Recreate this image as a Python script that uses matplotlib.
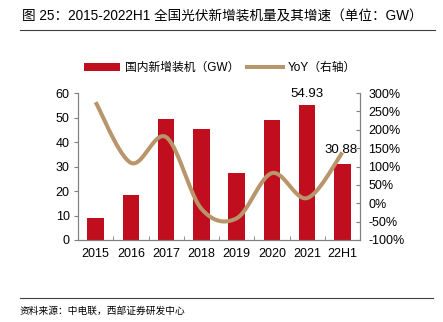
import matplotlib
matplotlib.use("Agg")
import matplotlib.pyplot as plt
import numpy as np
from matplotlib.patches import Patch
from matplotlib.lines import Line2D

plt.rcParams['font.family'] = ['Liberation Sans', 'Noto Sans CJK SC', 'DejaVu Sans']

categories = ['2015', '2016', '2017', '2018', '2019', '2020', '2021', '22H1']
installed = [8.9, 18.4, 49.3, 45.3, 27.2, 48.9, 54.93, 30.88]
yoy = [275, 110, 180, -15, -41, 82, 14, 138]
labelled = {6: '54.93', 7: '30.88'}

bar_color = '#C00E1E'
line_color = '#B8956B'
spine_color = '#808080'

fig = plt.figure(figsize=(4.43, 3.22), dpi=100)
W, H = 443, 322
ax = fig.add_axes([78 / W, 1 - 240 / H, (360 - 78) / W, (240 - 93) / H])
ax2 = ax.twinx()

x = np.arange(len(categories))
ax.bar(x, installed, width=0.47, color=bar_color, zorder=2)
ax.set_xlim(-0.5, len(categories) - 0.5)
ax.set_ylim(0, 60)
ax.set_yticks(range(0, 61, 10))
ax.set_xticks(x)
ax.set_xticklabels(categories)
ax.set_xticks(np.arange(-0.5, len(categories), 1), minor=True)
ax.tick_params(axis='x', which='major', length=0, labelsize=9, pad=6)
ax.tick_params(axis='x', which='minor', direction='in', length=3, color=spine_color)
ax.tick_params(axis='y', direction='out', length=3, labelsize=9, color=spine_color, pad=3)

# smooth line (Excel-like bezier smoothing in screen-proportional units)
sx, sy = 35.3, 0.3675
P = np.column_stack([x * sx, np.array(yoy) * sy])
pts = []
n = len(P)
for i in range(n - 1):
    p0 = P[i - 1] if i > 0 else P[i]
    p1 = P[i]
    p2 = P[i + 1]
    p3 = P[i + 2] if i + 2 < n else P[i + 1]
    c1 = p1 + (p2 - p0) / 6
    c2 = p2 - (p3 - p1) / 6
    t = np.linspace(0, 1, 40)[:, None]
    seg = (1 - t) ** 3 * p1 + 3 * (1 - t) ** 2 * t * c1 + 3 * (1 - t) * t ** 2 * c2 + t ** 3 * p2
    pts.append(seg if i == 0 else seg[1:])
pts = np.vstack(pts)
ax2.plot(pts[:, 0] / sx, pts[:, 1] / sy, color=line_color, lw=2.9, solid_capstyle='butt', zorder=3)
ax2.set_ylim(-100, 300)
ax2.set_yticks(range(-100, 301, 50))
ax2.set_yticklabels([f'{v}%' for v in range(-100, 301, 50)])
ax2.tick_params(axis='y', direction='in', length=3, labelsize=9, color=spine_color, pad=6)

for a in (ax, ax2):
    a.spines['top'].set_visible(False)
    for s in ('left', 'right', 'bottom'):
        a.spines[s].set_color(spine_color)
        a.spines[s].set_linewidth(0.8)

for i, txt in labelled.items():
    if i == 6:
        ax.annotate(txt, (i, installed[i]), xytext=(0, 4), textcoords='offset points',
                    ha='center', va='bottom', fontsize=9.5, zorder=5)
    else:
        ax.annotate(txt, (i, installed[i]), xytext=(-1, 6), textcoords='offset points',
                    ha='center', va='bottom', fontsize=9.5, zorder=5)

handles = [Patch(facecolor=bar_color, edgecolor='none'),
           Line2D([0], [0], color=line_color, lw=2.9)]
fig.legend(handles, ['国内新增装机（GW）', 'YoY（右轴）'], loc='center',
           bbox_to_anchor=(220 / W, 1 - 68 / H), ncol=2, frameon=False, fontsize=8.5,
           handlelength=3.0, handleheight=0.6, handletextpad=0.4, columnspacing=0.7)

fig.text(22 / W, 1 - 17 / H, '图 25：2015-2022H1 全国光伏新增装机量及其增速（单位：GW）',
         fontsize=9.8, ha='left', va='center')
fig.add_artist(Line2D([20 / W, 435 / W], [1 - 30 / H, 1 - 30 / H], color='#404040', lw=0.8))
fig.add_artist(Line2D([20 / W, 433 / W], [1 - 298 / H, 1 - 298 / H], color='#404040', lw=0.8))
fig.text(20 / W, 1 - 311 / H, '资料来源：中电联，西部证券研发中心', fontsize=7, ha='left', va='center')

fig.savefig('out.png', dpi=100)
